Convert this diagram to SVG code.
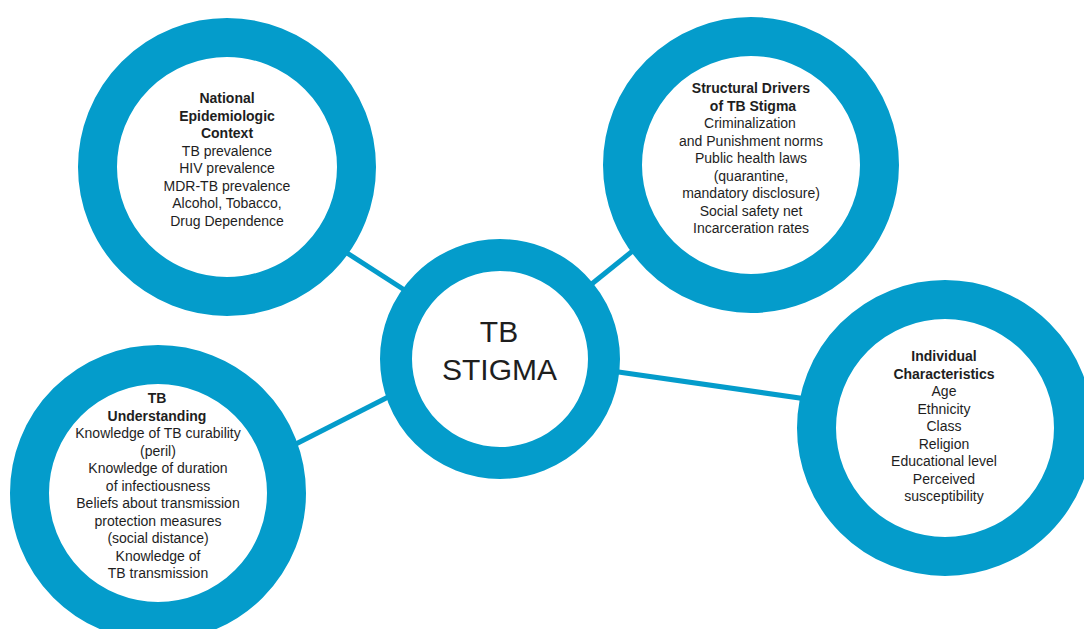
<svg xmlns="http://www.w3.org/2000/svg" width="1084" height="629" viewBox="0 0 1084 629">
<style>
.ring{fill:#ffffff;stroke:#049ccb}
.big{stroke-width:39}
.mid{stroke-width:32}
.conn{stroke:#049ccb;stroke-width:5;fill:none;stroke-linecap:butt}
text{font-family:"Liberation Sans",Arial,sans-serif;fill:#1e1e1e;text-anchor:middle}
.t{font-size:14px}
.h{font-size:14px;font-weight:700}
.c{font-size:30px}
</style>
<rect width="1084" height="629" fill="#ffffff"/>
<g id="connectors">
<line class="conn" x1="330" y1="242" x2="420" y2="300"/>
<line class="conn" x1="583" y1="291" x2="645" y2="241"/>
<line class="conn" x1="288" y1="448" x2="396" y2="393"/>
<line class="conn" x1="608" y1="370.5" x2="810" y2="399.5"/>
</g>
<g id="node-national">
<circle class="ring big" cx="227" cy="167" r="129.5"/>
<text class="h" x="227" y="103">National</text>
<text class="h" x="227" y="120.5">Epidemiologic</text>
<text class="h" x="227" y="138">Context</text>
<text class="t" x="227" y="155.5">TB prevalence</text>
<text class="t" x="227" y="173">HIV prevalence</text>
<text class="t" x="227" y="190.5">MDR-TB prevalence</text>
<text class="t" x="227" y="208">Alcohol, Tobacco,</text>
<text class="t" x="227" y="225.5">Drug Dependence</text>
</g>
<g id="node-structural">
<circle class="ring big" cx="751" cy="165" r="128.5"/>
<text class="h" x="751" y="93">Structural Drivers</text>
<text class="h" x="753" y="110.5">of TB Stigma</text>
<text class="t" x="750" y="128">Criminalization</text>
<text class="t" x="751" y="145.5">and Punishment norms</text>
<text class="t" x="751" y="163">Public health laws</text>
<text class="t" x="751" y="180.5">(quarantine,</text>
<text class="t" x="751" y="198">mandatory disclosure)</text>
<text class="t" x="751" y="215.5">Social safety net</text>
<text class="t" x="751" y="233">Incarceration rates</text>
</g>
<g id="node-understanding">
<circle class="ring big" cx="158" cy="493" r="128.5"/>
<text class="h" x="157" y="403">TB</text>
<text class="h" x="157" y="420.5">Understanding</text>
<text class="t" x="158" y="438">Knowledge of TB curability</text>
<text class="t" x="158" y="455.5">(peril)</text>
<text class="t" x="158" y="473">Knowledge of duration</text>
<text class="t" x="158" y="490.5">of infectiousness</text>
<text class="t" x="158" y="508">Beliefs about transmission</text>
<text class="t" x="158" y="525.5">protection measures</text>
<text class="t" x="158" y="543">(social distance)</text>
<text class="t" x="158" y="560.5">Knowledge of</text>
<text class="t" x="158" y="578">TB transmission</text>
</g>
<g id="node-individual">
<circle class="ring big" cx="945" cy="428" r="128.5"/>
<text class="h" x="944" y="361">Individual</text>
<text class="h" x="944" y="378.5">Characteristics</text>
<text class="t" x="944" y="396">Age</text>
<text class="t" x="944" y="413.5">Ethnicity</text>
<text class="t" x="944" y="431">Class</text>
<text class="t" x="944" y="448.5">Religion</text>
<text class="t" x="944" y="466">Educational level</text>
<text class="t" x="944" y="483.5">Perceived</text>
<text class="t" x="944" y="501">susceptibility</text>
</g>
<g id="node-center">
<circle class="ring mid" cx="500" cy="359" r="104"/>
<text class="c" x="499" y="342">TB</text>
<text class="c" x="499.5" y="380">STIGMA</text>
</g>
</svg>
